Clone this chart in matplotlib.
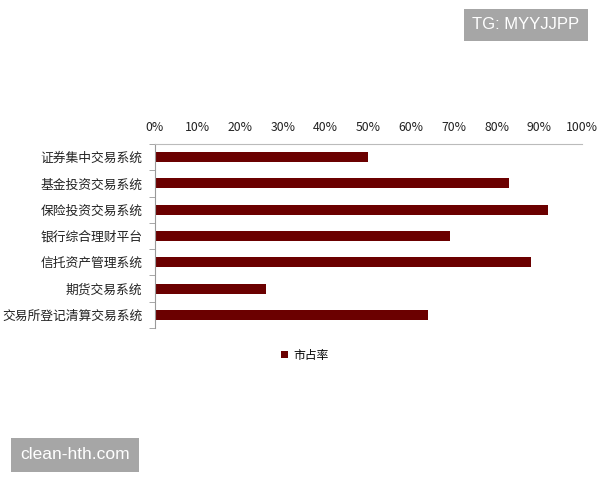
import matplotlib
matplotlib.use("Agg")
import matplotlib.pyplot as plt
import numpy as np
from matplotlib.ticker import FixedLocator

plt.rcParams['font.family'] = ['Noto Sans CJK SC', 'DejaVu Sans']

categories = ["证券集中交易系统", "基金投资交易系统", "保险投资交易系统", "银行综合理财平台",
              "信托资产管理系统", "期货交易系统", "交易所登记清算交易系统"]
values = [50, 83, 92, 69, 88, 26, 64]
xticks = [0, 10, 20, 30, 40, 50, 60, 70, 80, 90, 100]
xticklabels = [f"{t}%" for t in xticks]
series_name = "市占率"
bar_color = "#6B0000"

fig = plt.figure(figsize=(6, 4.8), dpi=100)
ax = fig.add_axes([0.2583, 0.3167, 0.7117, 0.3833])

y = np.arange(len(categories))
ax.barh(y, values, height=0.38, color=bar_color, label=series_name)
ax.set_ylim(len(categories) - 0.5, -0.5)
ax.set_xlim(0, 100)

ax.xaxis.tick_top()
ax.set_xticks(xticks)
ax.set_xticklabels(xticklabels, fontsize=8.8, color="#222222")
ax.tick_params(axis='x', length=0, pad=7)

ax.set_yticks(y)
ax.set_yticklabels(categories, fontsize=9.2, color="#222222")
ax.tick_params(axis='y', which='major', length=0, pad=9)
ax.yaxis.set_minor_locator(FixedLocator(np.arange(-0.5, len(categories), 1.0)))
ax.tick_params(axis='y', which='minor', length=4, color="#999999", direction='out')

for s in ["right", "bottom"]:
    ax.spines[s].set_visible(False)
ax.spines["top"].set_color("#BBBBBB")
ax.spines["left"].set_color("#999999")

leg = fig.legend(loc='center', bbox_to_anchor=(0.508, 0.26), frameon=False,
                 fontsize=8.5, handlelength=0.6, handleheight=0.6, handletextpad=0.5)

fig.text(0.8767, 0.948, "TG: MYYJJPP", fontsize=12, color="white", ha='center', va='center',
         family=['Liberation Sans', 'DejaVu Sans'],
         bbox=dict(boxstyle='square,pad=0.5', facecolor='#A6A6A6', edgecolor='none'))
fig.text(0.125, 0.0521, "clean-hth.com", fontsize=12.5, color="white", ha='center', va='center',
         family=['Liberation Sans', 'DejaVu Sans'],
         bbox=dict(boxstyle='square,pad=0.55', facecolor='#A6A6A6', edgecolor='none'))

fig.savefig("out.png", dpi=100)
